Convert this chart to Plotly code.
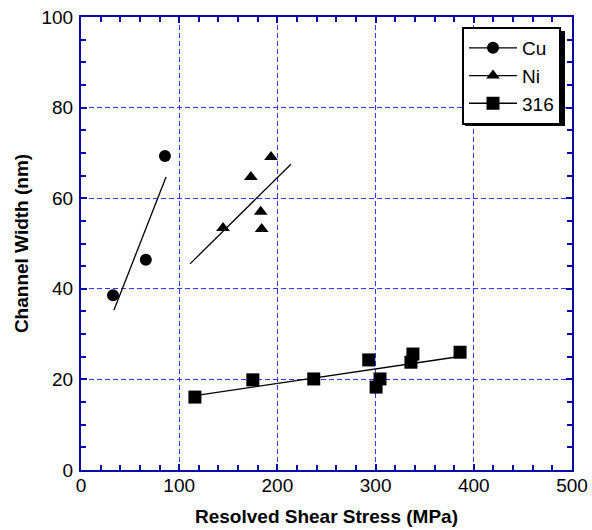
import plotly.graph_objects as go

# ---- data ----
cu_x = [32.6, 66.0, 85.5]
cu_y = [38.6, 46.4, 69.3]
ni_x = [144.6, 173.0, 193.5, 183.0, 184.0]
ni_y = [53.4, 64.7, 69.1, 57.0, 53.2]
ss_x = [116.0, 175.0, 237.0, 293.0, 300.5, 304.5, 336.0, 338.0, 386.0]
ss_y = [16.1, 19.9, 20.1, 24.3, 18.3, 20.1, 23.8, 25.6, 26.0]

cu_fit_x = [33.6, 86.6]
cu_fit_y = [35.3, 64.7]
ni_fit_x = [111.0, 213.8]
ni_fit_y = [45.5, 67.5]
ss_fit_x = [116.0, 384.0]
ss_fit_y = [16.4, 25.0]

x_ticks = [0, 100, 200, 300, 400, 500]
y_ticks = [0, 20, 40, 60, 80, 100]

FONT = "Liberation Sans, Arial, Helvetica, sans-serif"
AXIS_BLUE = "#0a0aa8"
GRID_BLUE = "#3333ff"

fig = go.Figure()

# fit lines
for fx, fy in [(cu_fit_x, cu_fit_y), (ni_fit_x, ni_fit_y), (ss_fit_x, ss_fit_y)]:
    fig.add_trace(go.Scatter(x=fx, y=fy, mode="lines",
                             line=dict(color="black", width=1.3),
                             showlegend=False, hoverinfo="skip"))

# data points
for name, xs, ys, sym, sz in [("Cu", cu_x, cu_y, "circle", 12),
                              ("Ni", ni_x, ni_y, "triangle-up", 12),
                              ("316", ss_x, ss_y, "square", 13)]:
    fig.add_trace(go.Scatter(x=xs, y=ys, mode="markers", name=name,
                             marker=dict(symbol=sym, size=sz, color="black"),
                             showlegend=False))
    # legend entry (line + marker)
    fig.add_trace(go.Scatter(x=[None], y=[None], mode="lines+markers", name=name,
                             marker=dict(symbol=sym, size=sz, color="black"),
                             line=dict(color="black", width=1.3)))

axis_common = dict(
    showline=True, linecolor=AXIS_BLUE, linewidth=2, mirror="ticks",
    ticks="inside", tickcolor=AXIS_BLUE, ticklen=6, tickwidth=1.5,
    showgrid=True, gridcolor=GRID_BLUE, gridwidth=1, griddash="5px,3px",
    zeroline=False, automargin=False,
    tickfont=dict(family=FONT, size=19, color="black"),
)

fig.update_xaxes(range=[0, 500], tickvals=x_ticks, ticklabelstandoff=-3,
                 minor=dict(ticks="inside", dtick=20, ticklen=5, tickcolor=AXIS_BLUE, tickwidth=1.5, showgrid=False),
                 title=dict(text="<b>Resolved Shear Stress (MPa)</b>", font=dict(family=FONT, size=19, color="black"), standoff=15),
                 **axis_common)
fig.update_yaxes(range=[0, 100], tickvals=y_ticks, ticklabelstandoff=2,
                 minor=dict(ticks="inside", dtick=5, ticklen=5, tickcolor=AXIS_BLUE, tickwidth=1.5, showgrid=False),
                 title=dict(text="<b>Channel Width (nm)</b>", font=dict(family=FONT, size=19, color="black"), standoff=8),
                 **axis_common)

# legend shadow
fig.add_shape(type="rect", xref="paper", yref="paper",
              x0=(465 - 81) / 491, x1=(565 - 81) / 491,
              y0=(470 - 126) / 453, y1=(470 - 31) / 453,
              fillcolor="black", line=dict(width=0), layer="above")

fig.update_layout(
    width=592, height=530,
    margin=dict(l=81, r=20, t=17, b=60),
    paper_bgcolor="white", plot_bgcolor="white",
    font=dict(family=FONT, color="black"),
    legend=dict(x=(561 - 81) / 491, xanchor="right", y=(470 - 27) / 453, yanchor="top",
                bgcolor="white", bordercolor="black", borderwidth=2,
                font=dict(family=FONT, size=19, color="black"),
                itemwidth=48, tracegroupgap=0),
    showlegend=True,
)

# remove the default 8px page margin so the figure fills the window exactly
fig.write_html("out.html", config={"displayModeBar": False},
               post_script="document.body.style.margin='0px';")
